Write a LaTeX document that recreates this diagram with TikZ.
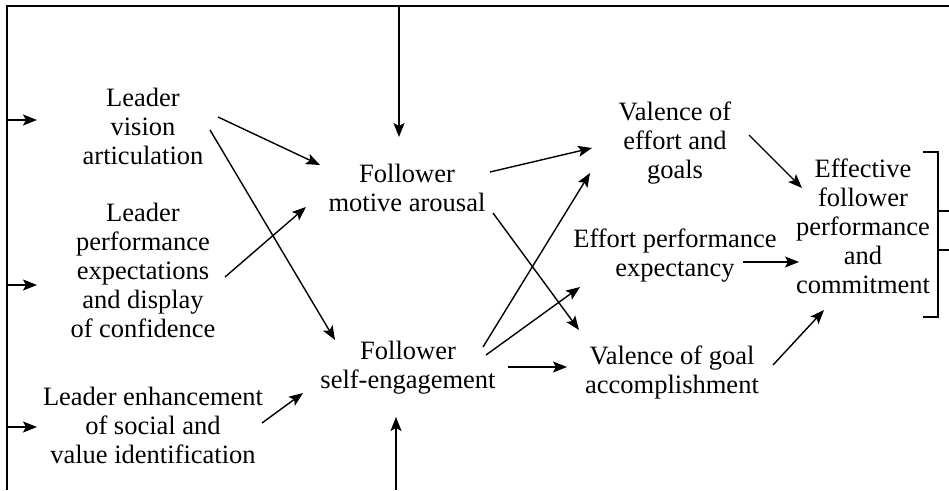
\documentclass[tikz,border=0pt]{standalone}
\usepackage{fontspec}
\setmainfont{Liberation Serif}
\usetikzlibrary{arrows.meta}
\begin{document}
\begin{tikzpicture}[x=1pt, y=-1pt,
	lbl/.style={align=center, inner sep=0pt, font=\fontsize{26.5}{29}\selectfont},
	arr/.style={line width=1.4pt, -{Stealth[length=14pt, width=11pt, inset=3pt]}}]
	\useasboundingbox (0,0) rectangle (949,490);
	% 外框
	\draw [line width=1.3pt] (949,6) -- (7,6) -- (7,490);
	\coordinate (top) at (399,6);
	\coordinate (bot) at (396,490);
	\coordinate (in1) at (7,120);
	\coordinate (in2) at (7,285);
	\coordinate (in3) at (7,427);
	% 领导行为
	\node [lbl] (vision) at (143,126) {Leader\\vision\\articulation};
	\node [lbl] (perf) at (143,270) {Leader\\performance\\expectations\\and display\\of confidence};
	\node [lbl] (enh) at (153,425) {Leader enhancement\\of social and\\value identification};
	% 下属反应
	\node [lbl] (arousal) at (407,188) {Follower\\motive arousal};
	\node [lbl] (engage) at (408,368) {Follower\\self-engagement};
	\node [lbl] (valeff) at (675,143) {Valence of\\effort and\\goals};
	\node [lbl] (effexp) at (675,256) {Effort performance\\expectancy};
	\node [lbl] (valgoal) at (672,372) {Valence of goal\\accomplishment};
	\node [lbl] (effective) at (863,226) {Effective\\follower\\performance\\and\\commitment};
	% 输入箭头
	\draw [arr] (in1) -- ([shift={(-106,-6)}]vision.center);
	\draw [arr] (in2) -- ([shift={(-106,15)}]perf.center);
	\draw [arr] (in3) -- ([shift={(-116,2)}]enh.center);
	\draw [arr] (top) -- ([shift={(-8,-51)}]arousal.center);
	\draw [arr] (bot) -- ([shift={(-12,49)}]engage.center);
	% 第一层
	\draw [arr] ([shift={(75,-9)}]vision.center) -- ([shift={(-87,-23)}]arousal.center);
	\draw [arr] ([shift={(67,4)}]vision.center) -- ([shift={(-73,-28)}]engage.center);
	\draw [arr] ([shift={(82,7)}]perf.center) -- ([shift={(-101,19)}]arousal.center);
	\draw [arr] ([shift={(109,-2)}]enh.center) -- ([shift={(-105,25)}]engage.center);
	% 第二层
	\draw [arr] ([shift={(83,-16)}]arousal.center) -- ([shift={(-83,5)}]valeff.center);
	\draw [arr] ([shift={(86,25)}]arousal.center) -- ([shift={(-93,-42)}]valgoal.center);
	\draw [arr] ([shift={(75,-21)}]engage.center) -- ([shift={(-85,30)}]valeff.center);
	\draw [arr] ([shift={(78,-13)}]engage.center) -- ([shift={(-95,31)}]effexp.center);
	\draw [arr] ([shift={(100,-1)}]engage.center) -- ([shift={(-105,-5)}]valgoal.center);
	% 第三层
	\draw [arr] ([shift={(74,-8)}]valeff.center) -- ([shift={(-61,-38)}]effective.center);
	\draw [arr] ([shift={(68,6)}]effexp.center) -- ([shift={(-64,36)}]effective.center);
	\draw [arr] ([shift={(101,-7)}]valgoal.center) -- ([shift={(-39,84)}]effective.center);
	% 右侧括号
	\draw [line width=1.3pt] (923,152) -- (938,152) -- (938,317) -- (923,317);
	\draw [line width=1.3pt] (938,211) -- (949,211);
	\draw [line width=1.3pt] (938,250) -- (949,250);
\end{tikzpicture}
\end{document}
